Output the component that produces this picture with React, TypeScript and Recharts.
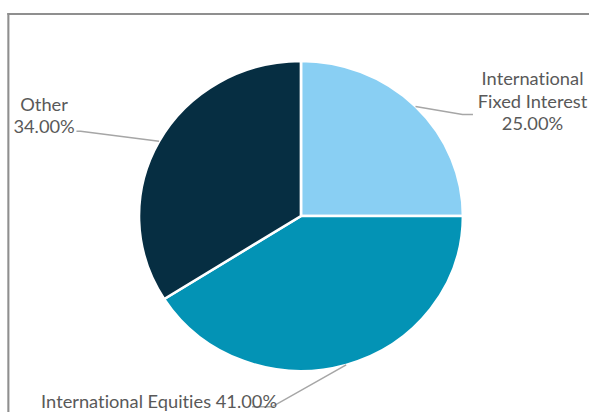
import { Cell, Pie, PieChart } from "recharts";

/* ===== Data ===== */
const categories = ["International Fixed Interest", "International Equities", "Other"];
const shares = [25, 41, 34];
const colors = ["#89CFF3", "#0393B5", "#062E42"];

/* ===== Layout ===== */
// the reference is stretched a little horizontally, so draw narrower and scale x
const STRETCH = 1.045;
const W = 564;
const H = 412;
const RADIAN = Math.PI / 180;
const TEXT = "#595959";
const LEADER = "#a6a6a6";

// label placement relative to each slice's edge anchor
const labelLayout = [
  { elbow: [45, 8], end: [55, 8], text: [112, -21], gap: 22.5, anchor: "middle", split: "wrap2" },
  { elbow: [-71, 42], end: [-90, 42], text: [-179, 43], gap: 0, anchor: "middle", split: "inline" },
  { elbow: [-75, -10], end: [-79, -10], text: [-110, -30], gap: 22, anchor: "middle", split: "pctBelow" },
];

const data = categories.map((name, i) => ({ name, value: shares[i] }));

function labelLines(name: string, pct: string, split: string) {
  if (split === "inline") return [`${name} ${pct}`];
  if (split === "pctBelow") return [name, pct];
  const words = name.split(" ");
  return [words[0], words.slice(1).join(" "), pct];
}

const renderLabel = (props: any) => {
  const { cx, cy, midAngle, outerRadius, index, value } = props;
  const lay = labelLayout[index];
  const ax = cx + outerRadius * Math.cos(-midAngle * RADIAN);
  const ay = cy + outerRadius * Math.sin(-midAngle * RADIAN);
  const pts = [
    [ax, ay],
    [ax + lay.elbow[0], ay + lay.elbow[1]],
    [ax + lay.end[0], ay + lay.end[1]],
  ]
    .map((p) => p.join(","))
    .join(" ");
  const lines = labelLines(categories[index], `${Number(value).toFixed(2)}%`, lay.split);
  return (
    <g key={`lbl-${index}`}>
      <polyline points={pts} fill="none" stroke={LEADER} strokeWidth={1.5} />
      <text
        x={ax + lay.text[0]}
        y={ay + lay.text[1]}
        textAnchor={lay.anchor}
        fill={TEXT}
        fontSize={17.5}
        fontFamily="Lato, 'Open Sans', sans-serif"
        style={{ fontVariantLigatures: "none", fontFeatureSettings: "'liga' 0" }}
      >
        {lines.map((t, k) => (
          <tspan key={k} x={ax + lay.text[0]} dy={k === 0 ? 0 : lay.gap}>
            {t}
          </tspan>
        ))}
      </text>
    </g>
  );
};

export default function App() {
  return (
    <div
      style={{
        position: "fixed",
        left: 0,
        top: 0,
        width: 589,
        height: 412,
        overflow: "hidden",
        background: "#fff",
      }}
    >
      <div
        style={{
          position: "absolute",
          left: 0,
          top: 0,
          width: W,
          height: H,
          transform: `scaleX(${STRETCH})`,
          transformOrigin: "0 0",
        }}
      >
        {/* chart frame, only left and top edges are in view */}
        <div
          style={{
            position: "absolute",
            left: 7,
            top: 13,
            width: 700,
            height: 600,
            borderLeft: "2px solid #8f8f8f",
            borderTop: "2px solid #8f8f8f",
          }}
        />
        <PieChart width={W} height={H} margin={{ top: 0, right: 0, bottom: 0, left: 0 }}>
          <Pie
            data={data}
            dataKey="value"
            nameKey="name"
            cx={288}
            cy={216}
            outerRadius={155}
            startAngle={90}
            endAngle={-270}
            stroke="#fff"
            strokeWidth={2.5}
            label={renderLabel}
            labelLine={false}
            isAnimationActive={false}
          >
            {data.map((d, i) => (
              <Cell key={d.name} fill={colors[i]} />
            ))}
          </Pie>
        </PieChart>
      </div>
    </div>
  );
}
